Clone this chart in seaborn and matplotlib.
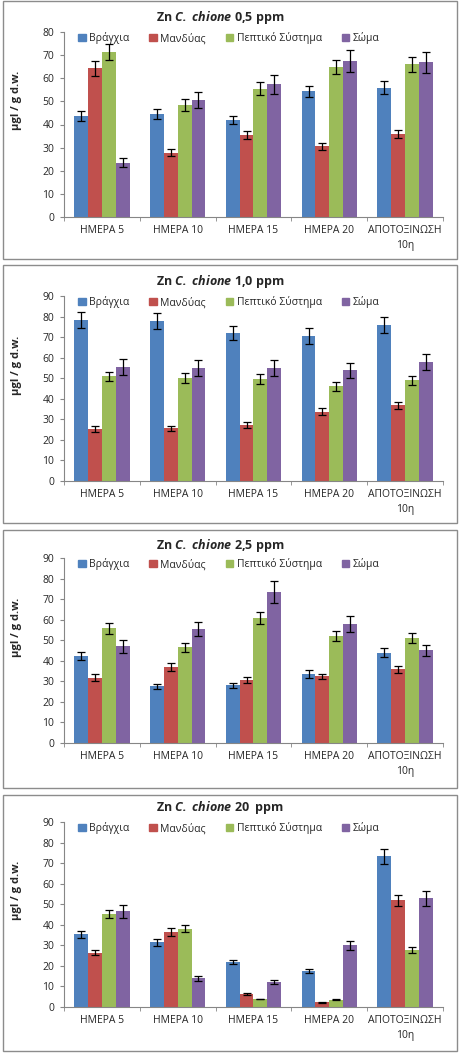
import numpy as np
import pandas as pd
import matplotlib
matplotlib.use("Agg")
import matplotlib.pyplot as plt
import seaborn as sns
from matplotlib.patches import Patch, Rectangle
from matplotlib.ticker import FixedLocator

days = ['ΗΜΕΡΑ 5', 'ΗΜΕΡΑ 10', 'ΗΜΕΡΑ 15', 'ΗΜΕΡΑ 20', 'ΑΠΟΤΟΞΙΝΩΣΗ\n10η']
tissues = ['Βράγχια', 'Μανδύας', 'Πεπτικό Σύστημα', 'Σώμα']
colors = ['#4F81BD', '#C0504D', '#9BBB59', '#8064A2']
doses = ['0,5', '1,0', '2,5', '20 ']
ymax = [80, 90, 90, 90]

# rows = tissues, columns = days
zn_05 = [[43.5, 44.4, 42.1, 54.3, 55.9],
         [64.3, 27.8, 35.6, 30.6, 36.0],
         [71.2, 48.4, 55.5, 65.0, 66.0],
         [23.5, 50.7, 57.4, 67.6, 66.9]]
err_05 = [[2.2, 2.2, 1.7, 2.5, 2.8],
          [3.2, 1.4, 1.7, 1.5, 1.8],
          [3.5, 2.5, 2.7, 3.1, 3.2],
          [1.8, 3.5, 4.0, 4.8, 4.5]]

zn_10 = [[78.3, 77.8, 72.0, 70.5, 75.9],
         [25.1, 25.6, 27.1, 33.6, 36.8],
         [50.9, 50.1, 49.6, 46.0, 49.0],
         [55.5, 55.0, 55.0, 53.8, 57.9]]
err_10 = [[4.0, 3.8, 3.6, 3.7, 3.7],
          [1.5, 1.4, 1.4, 1.7, 1.8],
          [2.3, 2.2, 2.3, 2.0, 2.3],
          [3.7, 3.7, 3.7, 3.8, 3.7]]

zn_25 = [[42.5, 27.6, 28.0, 33.6, 43.9],
         [31.8, 36.8, 30.8, 32.4, 35.8],
         [55.8, 46.5, 60.8, 52.2, 50.9],
         [47.0, 55.5, 73.6, 57.9, 45.1]]
err_25 = [[2.0, 1.3, 1.3, 1.8, 2.3],
          [1.7, 1.9, 1.5, 1.3, 1.9],
          [2.7, 2.3, 2.8, 2.5, 2.4],
          [3.2, 3.5, 5.3, 4.1, 2.8]]

zn_20 = [[35.3, 31.5, 22.0, 17.5, 73.3],
         [26.4, 36.5, 6.2, 2.3, 51.9],
         [45.1, 38.1, 3.9, 3.6, 27.6],
         [46.5, 13.9, 12.0, 30.0, 52.9]]
err_20 = [[1.7, 1.7, 1.1, 0.8, 3.7],
          [1.2, 1.8, 0.5, 0.2, 2.8],
          [2.0, 1.7, 0.2, 0.2, 1.5],
          [3.0, 1.1, 0.9, 2.3, 3.7]]

values = [zn_05, zn_10, zn_25, zn_20]
errors = [err_05, err_10, err_25, err_20]

sns.set_style("white")
plt.rcParams['font.family'] = ['Open Sans', 'DejaVu Sans']
plt.rcParams['mathtext.fontset'] = 'custom'
plt.rcParams['mathtext.bfit'] = 'Open Sans:bold:italic'
plt.rcParams['mathtext.it'] = 'Open Sans:italic'
plt.rcParams['mathtext.bf'] = 'Open Sans:bold'
plt.rcParams['mathtext.rm'] = 'Open Sans'

W, H = 464, 1062
fig = plt.figure(figsize=(W / 100, H / 100), dpi=100)

boxes = [(1, 259), (265, 523), (530, 788), (795, 1051)]
axes_top = [32, 296, 558, 822]
title_y = [17, 282, 545, 808]
ylab_y = [100, 365, 627, 890]
grey = '#868686'

for i in range(4):
    y0, y1 = boxes[i]
    fig.patches.append(Rectangle((3 / W, 1 - y1 / H), 454 / W, (y1 - y0) / H,
                                 transform=fig.transFigure, fill=False,
                                 edgecolor='#8c8c8c', linewidth=1))

    top = axes_top[i]
    ax = fig.add_axes([64 / W, 1 - (top + 185) / H, 379 / W, 185 / H])

    df = pd.DataFrame({
        'day': np.tile(days, len(tissues)),
        'tissue': np.repeat(tissues, len(days)),
        'val': np.ravel(values[i]),
    })
    sns.barplot(data=df, x='day', y='val', hue='tissue', order=days,
                hue_order=tissues, palette=colors, width=0.73,
                errorbar=None, linewidth=0, saturation=1, ax=ax)

    bar_groups = list(ax.containers)
    for k, cont in enumerate(bar_groups):
        xs = [b.get_x() + b.get_width() / 2 for b in cont]
        ax.errorbar(xs, values[i][k], yerr=errors[i][k], fmt='none',
                    ecolor='black', elinewidth=0.9, capsize=2.9,
                    capthick=0.9)

    ax.set_xlim(-0.5, 4.5)
    ax.set_ylim(0, ymax[i])
    ax.set_yticks(range(0, ymax[i] + 1, 10))
    ax.set_xlabel('')
    ax.set_ylabel('')
    ax.xaxis.set_minor_locator(FixedLocator(np.arange(-0.5, 5, 1)))
    ax.tick_params(axis='x', which='major', length=0, pad=6, labelsize=7.5)
    ax.tick_params(axis='x', which='minor', length=3, color=grey,
                   direction='out', bottom=True)
    ax.tick_params(axis='y', length=3, color=grey, direction='out', left=True,
                   pad=4, labelsize=7.5)
    for lab in ax.get_xticklabels():
        lab.set_linespacing(1.5)
    for s in ['top', 'right']:
        ax.spines[s].set_visible(False)
    for s in ['left', 'bottom']:
        ax.spines[s].set_color(grey)
        ax.spines[s].set_linewidth(0.8)

    ax.get_legend().remove()
    handles = [Patch(color=c, label=t) for c, t in zip(colors, tissues)]
    ax.legend(handles=handles, ncol=4, loc='center',
              bbox_to_anchor=(0.435, 0.965), frameon=False, fontsize=7.5,
              handlelength=0.7, handleheight=0.7, handletextpad=0.35,
              columnspacing=1.9, borderaxespad=0)

    fig.text(220 / W, 1 - title_y[i] / H,
             r'Zn $\mathbfit{C.\ chione}$ ' + doses[i] + ' ppm',
             ha='center', va='center', fontsize=9, fontweight='bold')
    fig.text(17 / W, 1 - ylab_y[i] / H, 'μgl / g d.w.', rotation=90,
             ha='center', va='center', fontsize=8, fontweight='bold')

fig.savefig('out.png', dpi=100)
